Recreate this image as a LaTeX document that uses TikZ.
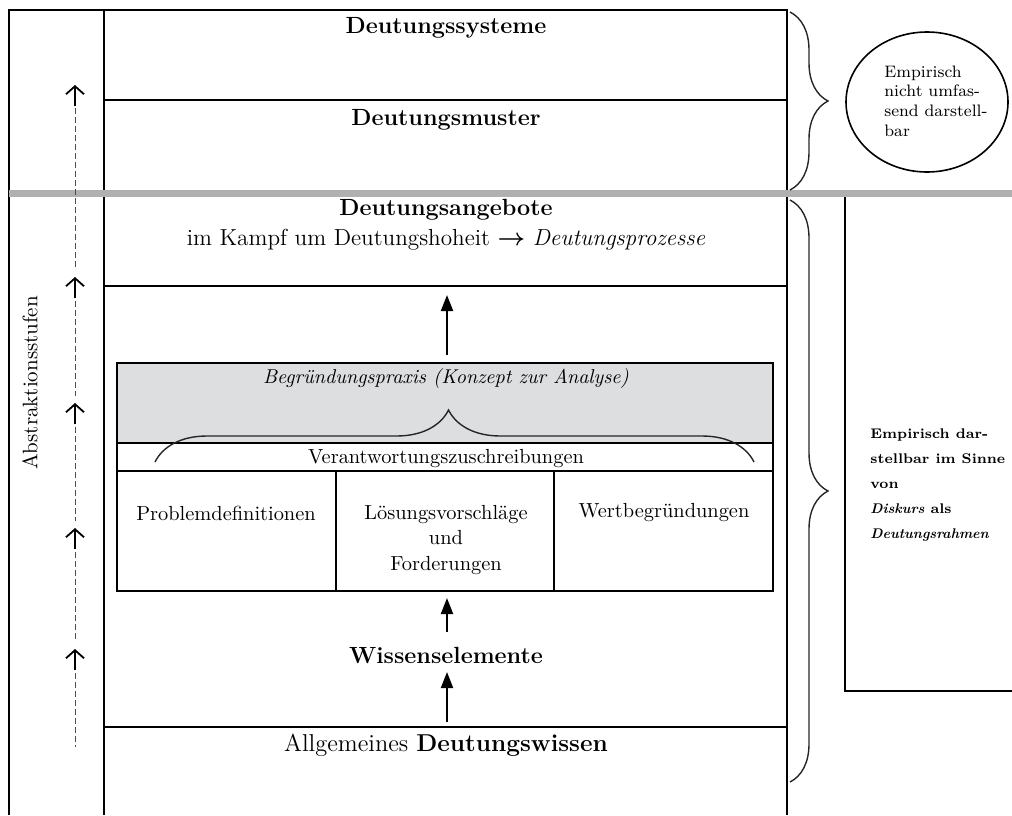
\documentclass[tikz,border=0pt]{standalone}
\usepackage{amsmath}
\usepackage{amssymb}
\usepackage{tikz}
\usepackage{xcolor}
\usetikzlibrary{positioning, arrows.meta, decorations.pathreplacing, shapes.geometric}
\definecolor{rulegray}{RGB}{176,176,176}
\definecolor{boxgray}{RGB}{221,222,224}

\begin{document}
\begin{tikzpicture}[x=0.5pt, y=-0.5pt,
  frameline/.style={line width=1pt},
  headtext/.style={font=\fontsize{11.7}{13.5}\selectfont\bfseries},
  bodytext/.style={font=\fontsize{10.2}{12.7}\selectfont, align=center},
  uparrow/.style={-{Triangle[length=8pt,width=6pt]}, line width=1pt},
  stufe/.style={-{Straight Barb[length=4pt,width=9pt]}, line width=0.9pt},
  stufenline/.style={dash pattern=on 3pt off 1.5pt, line width=0.5pt, black!70},
  bracket/.style={decorate, decoration={brace, amplitude=#1}, line width=0.7pt, black!85}
]

% Vertical positions
\def\yTop{10}
\def\yMuster{100}
\def\yCut{193}
\def\yAngebot{286}
\def\yWissen{727}
\def\yBot{815}

% Horizontal positions
\def\xL{9}
\def\xI{104}
\def\xR{787}
\def\xMid{446}

\useasboundingbox (0,0) rectangle (1012,815);

% Outer frame and levels
\draw[frameline] (\xL,\yBot) -- (\xL,\yTop) -- (\xR,\yTop) -- (\xR,\yBot);
\draw[frameline] (\xI,\yTop) -- (\xI,\yBot);
\foreach \y in {\yMuster,\yAngebot,\yWissen}
  \draw[frameline] (\xI,\y) -- (\xR,\y);

% Box on the right (open to the page edge)
\draw[frameline] (1014,196) -- (845,196) -- (845,691) -- (1014,691);

% Gray cut between the two halves
\draw[rulegray, line width=3.5pt] (\xL,\yCut) -- (1012,\yCut);

% Level titles
\node[headtext] (systeme) at (\xMid,28) {Deutungssysteme};
\node[headtext] (muster) at (\xMid,120) {Deutungsmuster};
\node[headtext] (angebote) at (\xMid,210) {Deutungsangebote};
\node[font=\fontsize{11.6}{13}\selectfont] (kampf) at (\xMid,240)
  {im Kampf um Deutungshoheit $\boldsymbol{\rightarrow}$ \textit{Deutungsprozesse}};

% Begruendungspraxis block
\draw[frameline, fill=boxgray] (117,363) rectangle (773,443);
\draw[frameline] (117,443) rectangle (773,471);
\foreach \xa/\xb in {117/336, 336/554, 554/773}
  \draw[frameline] (\xa,471) rectangle (\xb,591);

\node[bodytext, font=\fontsize{10}{12}\selectfont\itshape] (praxis) at (\xMid,378)
  {Begründungspraxis (Konzept zur Analyse)};
\draw[bracket=26pt, decoration={aspect=0.49}] (155,462) -- (754,462);
\node[bodytext] (verantwortung) at (\xMid,459) {Verantwortungszuschreibungen};
\node[bodytext] (problem) at (226,513) {Problemdefinitionen};
\node[bodytext] (loesung) at (\xMid,540) {Lösungsvorschläge\\und\\Forderungen};
\node[bodytext] (wert) at (664,513) {Wertbegründungen};

% Knowledge at the bottom
\node[headtext] (wissen) at (\xMid,655) {Wissenselemente};
\node[font=\fontsize{12.2}{14}\selectfont] (allgemein) at (\xMid,745)
  {Allgemeines \textbf{Deutungswissen}};

% Arrows in the middle column
\coordinate (praxistop) at (447,355);
\coordinate (angebotbase) at (447,295);
\coordinate (wissentop) at (447,632);
\coordinate (zellenbase) at (447,598);
\coordinate (allgtop) at (447,722);
\coordinate (wissenbase) at (447,672);
\draw[uparrow] (praxistop) -- (angebotbase);
\draw[uparrow] (wissentop) -- (zellenbase);
\draw[uparrow] (allgtop) -- (wissenbase);

% Abstraction steps on the left
\foreach \ya/\yb in {108/270, 301/396, 427/521, 552/642, 673/747}
  \draw[stufenline] (75,\ya) -- (75,\yb);
\foreach \t in {85,277,403,528,649}
  \draw[stufe] (75,\t+21) -- (75,\t);
\node[rotate=90, font=\fontsize{10.5}{12}\selectfont] (stufen) at (30,383) {Abstraktionsstufen};

% Braces and comments on the right
\draw[bracket=19pt] (790,12) -- (790,190);
\draw[bracket=19pt] (790,200) -- (790,782);

\node[ellipse, draw, line width=0.8pt, minimum width=81pt, minimum height=70pt] (umfassend) at (927,102) {};
\node[anchor=west, align=left, inner sep=0pt, font=\fontsize{8.3}{9.8}\selectfont] (umfassendtext) at (884,101)
  {Empirisch\\nicht umfas-\\send darstell-\\bar};

\node[anchor=west, align=left, inner sep=0pt, font=\fontsize{7}{12.5}\selectfont\bfseries] (darstellbar) at (870,485)
  {Empirisch dar-\\stellbar im Sinne\\von\\\textit{Diskurs} als\\\textit{Deutungsrahmen}};

\end{tikzpicture}
\end{document}
